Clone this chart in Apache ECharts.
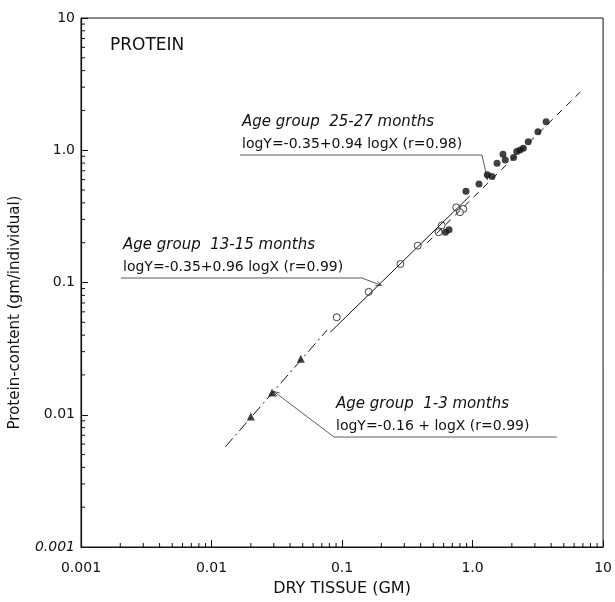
<!DOCTYPE html>
<html>
<head>
<meta charset="utf-8">
<script src="https://cdn.jsdelivr.net/npm/echarts@6/dist/echarts.min.js"></script>
<style>
  html, body { margin: 0; padding: 0; background: #fff; }
  #chart { width: 615px; height: 602px; }
</style>
</head>
<body>
<div id="chart"></div>
<script>
// Decade tick labels shared by both log axes
const tickLabels = ['0.001', '0.01', '0.1', '1.0', '10'];
const tickValues = [0.001, 0.01, 0.1, 1, 10];

// Age group 1-3 months (filled triangles): [dry tissue, protein]
const group1to3 = [[0.0200, 0.0097], [0.0291, 0.0147], [0.0483, 0.0265]];
// Age group 13-15 months (open circles)
const group13to15 = [[0.091, 0.0546], [0.16, 0.085], [0.28, 0.138], [0.38, 0.19],
  [0.55, 0.24], [0.58, 0.27], [0.75, 0.37], [0.85, 0.36], [0.80, 0.34]];
// Age group 25-27 months (filled circles)
const group25to27 = [[0.62, 0.24], [0.66, 0.25], [0.89, 0.49], [1.12, 0.555], [1.30, 0.652],
  [1.41, 0.634], [1.54, 0.798], [1.71, 0.933], [1.78, 0.845], [2.06, 0.881], [2.18, 0.977],
  [2.31, 1.005], [2.45, 1.035], [2.67, 1.16], [3.17, 1.38], [3.66, 1.64]];

// Fitted regression lines, as drawn (end points)
const fit1to3 = [[0.0128, 0.00574], [0.0767, 0.0436]];
const fit13to15 = [[0.0813, 0.0421], [0.95, 0.45]];
const fit25to27 = [[0.45, 0.20], [6.7, 2.76]];

// Minor tick positions (2..9 within each decade)
const minorTicks = [];
[0.001, 0.01, 0.1, 1].forEach(d => { for (let m = 2; m <= 9; m++) minorTicks.push(+(d * m).toPrecision(3)); });

const FONT = 'DejaVu Sans';
const chart = echarts.init(document.getElementById('chart'), null, { renderer: 'canvas' });

function labelFmt(v) {
  const i = tickValues.findIndex(t => Math.abs(Math.log10(t) - Math.log10(v)) < 1e-6);
  return i >= 0 ? tickLabels[i] : '';
}

const axisCommon = {
  type: 'log', logBase: 10, min: 0.001, max: 10, splitNumber: 4,
  axisLine: { lineStyle: { color: '#111', width: 1.2 } },
  axisTick: { inside: true, length: 7, lineStyle: { color: '#111', width: 1 } },
  splitLine: { show: false },
  nameTextStyle: { fontFamily: FONT, color: '#111', fontSize: 15 }
};

chart.setOption({
  animation: false,
  backgroundColor: '#fff',
  grid: { left: 76, top: 18, right: 7, bottom: 51, show: true, borderColor: '#111', borderWidth: 1 },
  xAxis: Object.assign({}, axisCommon, {
    name: 'DRY TISSUE (GM)', nameLocation: 'middle', nameGap: 34,
    nameTextStyle: { fontFamily: FONT, color: '#111', fontSize: 16 },
    axisLabel: { formatter: labelFmt, fontFamily: FONT, color: '#111', fontSize: 14, margin: 14 }
  }),
  yAxis: Object.assign({}, axisCommon, {
    name: 'Protein-content (gm/individual)', nameLocation: 'middle', nameGap: 58,
    nameTextStyle: { fontFamily: FONT, color: '#111', fontSize: 15, padding: [0, 0, 0, -60] },
    axisLabel: {
      fontFamily: FONT, color: '#111', fontSize: 14, margin: 6,
      formatter: v => { const s = labelFmt(v); return v < 0.005 ? '{it|' + s + '}' : s; },
      rich: { it: { fontFamily: FONT, fontStyle: 'italic', fontSize: 14, color: '#111' } }
    }
  }),
  series: [
    { type: 'line', data: fit1to3, symbol: 'none', silent: true,
      lineStyle: { color: '#111', width: 1, type: [11, 4, 2, 4] } },
    { type: 'line', data: fit13to15, symbol: 'none', silent: true,
      lineStyle: { color: '#111', width: 1 } },
    { type: 'line', data: fit25to27, symbol: 'none', silent: true,
      lineStyle: { color: '#111', width: 1, type: [7, 6] } },
    { type: 'scatter', data: group1to3, symbol: 'triangle', symbolSize: 8,
      itemStyle: { color: '#111' } },
    { type: 'scatter', data: group13to15, symbol: 'circle', symbolSize: 7,
      itemStyle: { color: '#fff', borderColor: '#111', borderWidth: 1 } },
    { type: 'scatter', data: group25to27, symbol: 'circle', symbolSize: 7,
      itemStyle: { color: '#111' } },
    // minor ticks along both axes
    { type: 'custom', silent: true, clip: false, data: minorTicks.map(v => [v]),
      renderItem: (params, api) => {
        const v = api.value(0);
        const px = api.coord([v, 0.001]);
        const py = api.coord([0.001, v]);
        return { type: 'group', children: [
          { type: 'line', shape: { x1: px[0], y1: px[1], x2: px[0], y2: px[1] - 4 }, style: { stroke: '#111', lineWidth: 1 } },
          { type: 'line', shape: { x1: py[0], y1: py[1], x2: py[0] + 4, y2: py[1] }, style: { stroke: '#111', lineWidth: 1 } }
        ] };
      } }
  ]
});

// Small open arrowhead at the end of a leader line
function arrowHead(from, to) {
  const ang = Math.atan2(to[1] - from[1], to[0] - from[0]);
  const L = 6, spread = 0.4;
  const p1 = [to[0] - L * Math.cos(ang - spread), to[1] - L * Math.sin(ang - spread)];
  const p2 = [to[0] - L * Math.cos(ang + spread), to[1] - L * Math.sin(ang + spread)];
  return { type: 'polyline', shape: { points: [p1, to, p2] }, style: { stroke: '#333', lineWidth: 0.8, fill: null } };
}

// Annotation: two text lines, an underline, and a leader from one end of the underline to the fitted line
function annot(x, y, title, eq, underlineEnd, target, fromLeft) {
  const tgt = chart.convertToPixel({ gridIndex: 0 }, target);
  const a = [x - 2, y + 40], b = [underlineEnd, y + 40];
  const pts = fromLeft ? [tgt, a, b] : [a, b, tgt];
  return [
    { type: 'text', left: x, top: y, style: { text: title, font: 'italic 15px "' + FONT + '"', fill: '#111' } },
    { type: 'text', left: x, top: y + 22, style: { text: eq, font: '14px "' + FONT + '"', fill: '#111' } },
    { type: 'polyline', shape: { points: pts }, style: { stroke: '#333', lineWidth: 0.8, fill: null } },
    arrowHead(fromLeft ? a : b, tgt)
  ];
}

chart.setOption({
  graphic: [
    { type: 'text', left: 110, top: 37, style: { text: 'PROTEIN', font: '17px "' + FONT + '"', fill: '#111' } }
  ].concat(
    annot(242, 115, 'Age group  25-27 months', 'logY=-0.35+0.94 logX (r=0.98)', 482, [1.30, 0.60], false),
    annot(123, 238, 'Age group  13-15 months', 'logY=-0.35+0.96 logX (r=0.99)', 362, [0.20, 0.095], false),
    annot(336, 397, 'Age group  1-3 months', 'logY=-0.16 + logX (r=0.99)', 557, [0.0300, 0.0150], true)
  )
});
</script>
</body>
</html>
